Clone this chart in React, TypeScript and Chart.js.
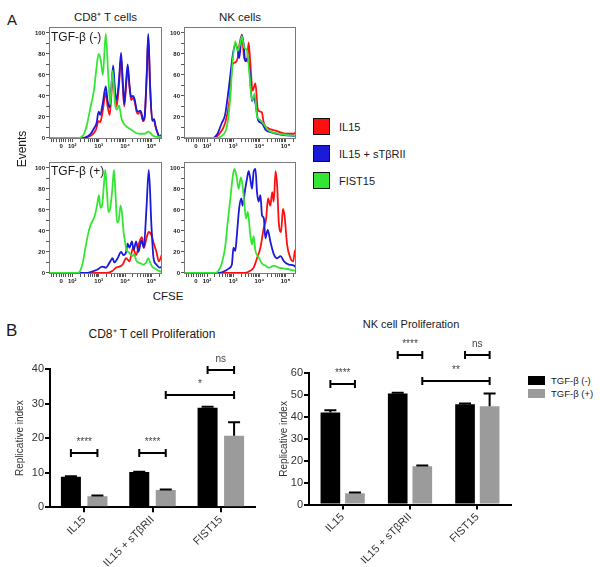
import React, { useEffect, useRef } from 'react';
import { Chart, registerables } from 'chart.js';

Chart.register(...registerables);

const FONT = "'Liberation Sans', Arial, Helvetica, sans-serif";
const RED = '#ff1010';
const BLUE = '#1a1ad8';
const GREEN = '#33e633';

// ---------- Panel A: CFSE histograms ----------
// x = CFSE display position in decades (10^n at n, "0" at 1.58); y = % of max events
const cfseMajorTicks = [1.58, 2, 3, 4, 5];
const cfseMajorLabels = ['0', '10²', '10³', '10⁴', '10⁵'];
const cfseLinearMinor = [1.2, 1.3, 1.4, 1.5, 1.67, 1.75, 1.84, 1.92];
const cfseDecades = [2, 3, 4];
const cfseMinorMultipliers = [2, 3, 4, 5, 6, 7, 8, 9];
const eventTicks = [0, 10, 20, 30, 40, 50, 60, 70, 80, 90, 100];
const flowSeriesNames = ['FIST15', 'IL15 + sTβRII', 'IL15'];

const cd8MinusGreen = [[1.12,0],[2.2,0],[2.35,1],[2.45,4],[2.56,13],[2.69,29],[2.82,45],[2.92,67],[3.0,80],[3.08,74],[3.16,60],[3.27,99],[3.36,62],[3.44,32],[3.53,64],[3.62,33],[3.69,27],[3.77,31],[3.87,18],[3.97,13],[4.1,10],[4.23,8],[4.4,5],[4.55,4],[4.74,4],[4.88,6],[4.95,5],[5.06,2],[5.2,1],[5.4,1]];
const cd8MinusBlue = [[1.12,0],[2.4,0],[2.55,1],[2.7,4],[2.82,9],[2.92,14],[3.0,25],[3.06,22],[3.15,32],[3.27,49],[3.34,35],[3.42,29],[3.55,69],[3.62,45],[3.68,36],[3.77,55],[3.85,81],[3.92,50],[3.97,32],[4.03,50],[4.1,70],[4.17,50],[4.23,39],[4.3,40],[4.36,37],[4.45,26],[4.5,25],[4.57,26],[4.62,24],[4.68,17],[4.74,20],[4.82,60],[4.88,99],[4.95,50],[5.03,17],[5.1,18],[5.15,12],[5.26,3],[5.32,1],[5.4,4]];
const cd8MinusRed = [[1.12,0],[2.45,0],[2.6,1],[2.75,3],[2.9,8],[3.0,16],[3.06,15],[3.15,25],[3.27,43],[3.34,30],[3.42,22],[3.55,62],[3.62,40],[3.68,30],[3.77,50],[3.85,76],[3.92,48],[3.97,30],[4.03,46],[4.1,66],[4.17,48],[4.23,36],[4.3,38],[4.36,35],[4.45,24],[4.5,23],[4.57,25],[4.62,22],[4.68,16],[4.74,19],[4.82,58],[4.88,97],[4.95,48],[5.03,16],[5.1,17],[5.15,11],[5.26,3],[5.32,1],[5.4,3]];

const nkMinusGreen = [[1.12,0],[2.4,0],[2.56,2],[2.76,11],[2.88,36],[2.97,70],[3.08,92],[3.17,83],[3.27,90],[3.33,97],[3.42,86],[3.53,83],[3.62,61],[3.72,36],[3.82,42],[3.91,21],[4.04,17],[4.14,14],[4.36,7],[4.74,4],[5.4,2]];
const nkMinusBlue = [[1.12,0],[2.2,0],[2.3,1],[2.4,4],[2.56,14],[2.69,22],[2.82,45],[2.91,64],[2.99,80],[3.08,89],[3.17,84],[3.23,76],[3.33,98],[3.4,89],[3.46,73],[3.55,76],[3.62,67],[3.72,35],[3.78,39],[3.85,33],[3.95,17],[4.1,14],[4.23,8],[4.49,5],[4.87,3],[5.4,2]];
const nkMinusRed = [[1.12,0],[2.3,0],[2.44,3],[2.69,14],[2.86,36],[2.97,70],[3.08,72],[3.17,76],[3.24,89],[3.33,98],[3.42,76],[3.53,73],[3.59,91],[3.65,73],[3.74,45],[3.85,52],[3.94,27],[4.04,25],[4.1,24],[4.17,14],[4.36,9],[4.62,7],[5.0,4],[5.32,4],[5.4,6]];

const cd8PlusGreen = [[1.12,0],[2.2,0],[2.3,2],[2.4,10],[2.5,24],[2.6,37],[2.7,46],[2.8,51],[2.88,57],[2.95,66],[3.01,74],[3.07,62],[3.13,64],[3.2,84],[3.25,98],[3.31,80],[3.37,58],[3.44,62],[3.52,80],[3.58,98],[3.64,75],[3.7,48],[3.76,50],[3.83,64],[3.88,58],[3.95,38],[4.0,30],[4.05,22],[4.12,20],[4.2,18],[4.28,16],[4.35,18],[4.42,12],[4.5,10],[4.6,9],[4.7,8],[4.8,10],[4.88,14],[4.95,10],[5.03,6],[5.15,4],[5.28,2],[5.4,1]];
const cd8PlusBlue = [[1.12,0],[2.5,0],[2.94,3],[3.14,6],[3.27,5],[3.44,11],[3.53,14],[3.59,10],[3.72,14],[3.85,20],[3.94,17],[4.04,20],[4.1,28],[4.17,24],[4.26,30],[4.33,22],[4.42,30],[4.51,20],[4.62,31],[4.71,24],[4.81,61],[4.9,98],[5.0,45],[5.08,14],[5.19,8],[5.32,5],[5.4,6]];
const cd8PlusRed = [[1.12,0],[3.3,0],[3.53,2],[3.65,5],[3.78,6],[3.91,8],[4.04,14],[4.17,11],[4.3,24],[4.42,17],[4.55,30],[4.64,34],[4.72,24],[4.81,33],[4.9,39],[5.0,36],[5.1,27],[5.19,20],[5.28,11],[5.4,18]];

const nkPlusGreen = [[1.12,0],[2.3,0],[2.44,2],[2.56,9],[2.69,24],[2.78,46],[2.88,68],[2.99,93],[3.05,99],[3.14,90],[3.21,80],[3.29,91],[3.36,83],[3.44,62],[3.49,52],[3.56,58],[3.65,37],[3.72,27],[3.78,35],[3.85,21],[3.97,15],[4.1,9],[4.23,7],[4.36,5],[4.55,7],[4.74,5],[5.0,4],[5.4,2]];
const nkPlusBlue = [[1.12,0],[2.44,0],[2.69,2],[2.82,4],[2.95,8],[3.01,24],[3.08,21],[3.14,36],[3.23,62],[3.31,71],[3.36,64],[3.46,80],[3.53,90],[3.59,97],[3.65,90],[3.72,80],[3.78,96],[3.85,99],[3.91,77],[3.97,68],[4.04,74],[4.1,55],[4.17,52],[4.23,33],[4.32,41],[4.42,30],[4.55,18],[4.68,14],[4.81,16],[4.94,11],[5.13,8],[5.32,7],[5.4,5]];
const nkPlusRed = [[1.12,0],[3.46,0],[3.65,2],[3.78,5],[3.91,14],[4.04,24],[4.17,43],[4.26,52],[4.33,71],[4.42,64],[4.49,77],[4.55,68],[4.62,97],[4.68,83],[4.74,49],[4.83,39],[4.9,61],[4.96,55],[5.06,27],[5.19,14],[5.29,11],[5.36,21],[5.4,22]];

// ---------- Panel B: replicative index ----------
const barCategories = ['IL15', 'IL15 + sTβRII', 'FIST15'];
const barSeries = ['TGF-β (-)', 'TGF-β (+)'];
const cd8Minus = [8.8, 10.2, 28.8];
const cd8Plus = [3.2, 5.0, 20.7];
const cd8MinusErr = [0.15, 0.1, 0.3];
const cd8PlusErr = [0.2, 0.15, 3.9];
const nkMinus = [42.1, 50.8, 45.8];
const nkPlus = [5.2, 17.5, 44.9];
const nkMinusErr = [1.0, 0.3, 0.4];
const nkPlusErr = [0.3, 0.3, 5.9];
// [fromSeries, fromCategory, toSeries, toCategory, level, label]
const cd8Sig = [[0,0,1,0,15.6,'****'],[0,1,1,1,15.7,'****'],[1,1,1,2,32.5,'*'],[0,2,1,2,39.6,'ns']];
const nkSig = [[0,0,1,0,55.3,'****'],[0,1,1,1,68.3,'****'],[1,1,1,2,56.4,'**'],[0,2,1,2,68.3,'ns']];

const cfseAllTicks = [
  ...cfseLinearMinor,
  ...cfseMajorTicks,
  ...cfseDecades.flatMap((d) => cfseMinorMultipliers.map((m) => d + Math.log10(m))),
  5 + Math.log10(2),
].sort((a, b) => a - b);

const framePlugin = {
  id: 'frame',
  afterDatasetsDraw(chart: any) {
    const { ctx, chartArea: a } = chart;
    ctx.save();
    ctx.strokeStyle = '#7a7a7a';
    ctx.lineWidth = 1;
    ctx.strokeRect(Math.round(a.left) + 0.5, Math.round(a.top) + 0.5, Math.round(a.right - a.left) - 1, Math.round(a.bottom - a.top) - 1);
    ctx.restore();
  },
};

function Histogram({ left, top, width, height, series }: any) {
  const ref = useRef<HTMLCanvasElement>(null);
  useEffect(() => {
    const colors = [GREEN, BLUE, RED];
    const tickFont = { family: FONT, size: 6, weight: 'bold' as const };
    const chart = new Chart(ref.current as HTMLCanvasElement, {
      type: 'line',
      data: {
        datasets: series.map((pts: number[][], i: number) => ({
          label: flowSeriesNames[i],
          data: pts.map(([x, y]) => ({ x, y })),
          borderColor: colors[i],
          borderWidth: 1.8,
          pointRadius: 0,
          fill: false,
          cubicInterpolationMode: 'monotone',
        })),
      },
      options: {
        animation: false,
        responsive: false,
        events: [],
        layout: { padding: { left: 0, right: 2, top: 4, bottom: 0 } },
        plugins: { legend: { display: false }, tooltip: { enabled: false } },
        scales: {
          x: {
            type: 'linear',
            min: 1.12,
            max: 5.4,
            afterFit: (s: any) => { s.height = 16; },
            afterBuildTicks: (ax: any) => { ax.ticks = cfseAllTicks.map((v) => ({ value: v })); },
            ticks: {
              autoSkip: false, maxRotation: 0, minRotation: 0, padding: 1, color: '#222', font: tickFont,
              callback: (v: any) => { const i = cfseMajorTicks.indexOf(v); return i >= 0 ? cfseMajorLabels[i] : ''; },
            },
            grid: { drawOnChartArea: false, tickLength: 3, color: '#555' },
            border: { display: false },
          },
          y: {
            min: -1,
            max: 106,
            afterFit: (s: any) => { s.width = 19; },
            afterBuildTicks: (ax: any) => { ax.ticks = eventTicks.map((v) => ({ value: v })); },
            ticks: {
              autoSkip: false, padding: 1, color: '#222', font: tickFont,
              callback: (v: any) => (v % 20 === 0 ? String(v) : ''),
            },
            grid: { drawOnChartArea: false, tickLength: 3, color: '#555' },
            border: { display: false },
          },
        },
      },
      plugins: [framePlugin],
    } as any);
    return () => chart.destroy();
  }, []);
  return <canvas ref={ref} width={width} height={height} style={{ position: 'absolute', left, top }} />;
}

const errorBarPlugin = {
  id: 'errorBars',
  afterDatasetsDraw(chart: any, _args: any, opts: any) {
    const { ctx } = chart;
    const ys = chart.scales.y;
    ctx.save();
    ctx.strokeStyle = '#000';
    ctx.lineWidth = 2;
    chart.data.datasets.forEach((ds: any, i: number) => {
      chart.getDatasetMeta(i).data.forEach((bar: any, j: number) => {
        const topY = ys.getPixelForValue(ds.data[j] + opts.errors[i][j]);
        ctx.beginPath();
        ctx.moveTo(bar.x, bar.y);
        ctx.lineTo(bar.x, topY);
        ctx.moveTo(bar.x - 6, topY);
        ctx.lineTo(bar.x + 6, topY);
        ctx.stroke();
      });
    });
    ctx.restore();
  },
};

const sigPlugin = {
  id: 'sig',
  afterDraw(chart: any, _args: any, opts: any) {
    const { ctx } = chart;
    const ys = chart.scales.y;
    ctx.save();
    opts.items.forEach(([fs, fc, ts, tc, level, label]: any) => {
      const x1 = chart.getDatasetMeta(fs).data[fc].x;
      const x2 = chart.getDatasetMeta(ts).data[tc].x;
      const y = Math.round(ys.getPixelForValue(level));
      ctx.strokeStyle = '#000';
      ctx.lineWidth = 2;
      ctx.beginPath();
      ctx.moveTo(x1, y); ctx.lineTo(x2, y);
      ctx.moveTo(x1, y - 4); ctx.lineTo(x1, y + 4);
      ctx.moveTo(x2, y - 4); ctx.lineTo(x2, y + 4);
      ctx.stroke();
      ctx.fillStyle = '#444';
      ctx.font = `10px ${FONT}`;
      ctx.textAlign = 'center';
      ctx.textBaseline = 'alphabetic';
      ctx.fillText(label, (x1 + x2) / 2, y - 8);
    });
    ctx.restore();
  },
};

function BarChart(p: any) {
  const ref = useRef<HTMLCanvasElement>(null);
  useEffect(() => {
    const chart = new Chart(ref.current as HTMLCanvasElement, {
      type: 'bar',
      data: {
        labels: barCategories,
        datasets: [
          { label: barSeries[0], data: p.minus, backgroundColor: '#000', borderWidth: 0 },
          { label: barSeries[1], data: p.plus, backgroundColor: '#9b9b9b', borderWidth: 0 },
        ],
      },
      options: {
        animation: false,
        responsive: false,
        events: [],
        layout: { padding: { left: 0, right: p.padRight, top: p.padTop, bottom: 0 } },
        datasets: { bar: { categoryPercentage: p.catPct, barPercentage: p.barPct } },
        plugins: {
          legend: { display: false },
          tooltip: { enabled: false },
          errorBars: { errors: [p.minusErr, p.plusErr] },
          sig: { items: p.sig },
        },
        scales: {
          x: {
            afterFit: (s: any) => { s.height = p.xAxisHeight; },
            grid: { offset: false, drawOnChartArea: false, tickLength: 5, lineWidth: 2, color: '#000' },
            border: { display: true, width: 2, color: '#000' },
            ticks: { minRotation: 45, maxRotation: 45, autoSkip: false, padding: 1, color: '#333', font: { family: FONT, size: 11 } },
          },
          y: {
            min: 0,
            max: p.yMax,
            afterFit: (s: any) => { s.width = p.axisWidth; },
            ticks: { stepSize: 10, padding: 1, color: '#333', font: { family: FONT, size: 11 } },
            grid: { drawOnChartArea: false, tickLength: 5, lineWidth: 2, color: '#000' },
            border: { display: true, width: 2, color: '#000' },
            title: { display: true, text: 'Replicative index', color: '#333', font: { family: FONT, size: 10 }, padding: { top: p.titlePad, bottom: 0 } },
          },
        },
      },
      plugins: [errorBarPlugin, sigPlugin],
    } as any);
    return () => chart.destroy();
  }, []);
  return <canvas ref={ref} width={p.width} height={p.height} style={{ position: 'absolute', left: p.left, top: p.top }} />;
}

function Txt({ x, y, size, children, center = true, rotate = 0 }: any) {
  return (
    <div
      style={{
        position: 'absolute', left: x, top: y, fontSize: size, lineHeight: 1, whiteSpace: 'nowrap',
        transform: `translate(${center ? '-50%' : '0'}, -50%) rotate(${rotate}deg)`,
      }}
    >
      {children}
    </div>
  );
}

function Swatch({ x, y, w, h, color, border }: any) {
  return (
    <div style={{ position: 'absolute', left: x, top: y, width: w, height: h, background: color, boxSizing: 'border-box', border: border ? '1px solid #111' : 'none' }} />
  );
}

export default function App() {
  return (
    <div style={{ position: 'absolute', left: 0, top: 0, width: 600, height: 567, background: '#fff', overflow: 'hidden', fontFamily: FONT, color: '#1a1a1a' }}>
      <Txt x={7} y={19} size={15} center={false}>A</Txt>
      <Txt x={105.5} y={18} size={11.5}>CD8⁺ T cells</Txt>
      <Txt x={240} y={18} size={11.5}>NK cells</Txt>

      <Histogram left={30} top={22} width={134} height={133} series={[cd8MinusGreen, cd8MinusBlue, cd8MinusRed]} />
      <Histogram left={165} top={22} width={133} height={133} series={[nkMinusGreen, nkMinusBlue, nkMinusRed]} />
      <Histogram left={30} top={157} width={134} height={133} series={[cd8PlusGreen, cd8PlusBlue, cd8PlusRed]} />
      <Histogram left={165} top={157} width={133} height={133} series={[nkPlusGreen, nkPlusBlue, nkPlusRed]} />

      <Txt x={51} y={37} size={12} center={false}>TGF-β (-)</Txt>
      <Txt x={51} y={171} size={12} center={false}>TGF-β (+)</Txt>
      <Txt x={22} y={149} size={12} rotate={-90}>Events</Txt>
      <Txt x={168} y={297} size={11.5}>CFSE</Txt>

      <Swatch x={313} y={118} w={17} h={17} color={RED} border />
      <Txt x={339} y={127} size={11} center={false}>{flowSeriesNames[2]}</Txt>
      <Swatch x={313} y={145} w={17} h={17} color={BLUE} border />
      <Txt x={339} y={154} size={11} center={false}>{flowSeriesNames[1]}</Txt>
      <Swatch x={313} y={172} w={17} h={17} color={GREEN} border />
      <Txt x={339} y={181} size={11} center={false}>{flowSeriesNames[0]}</Txt>

      <Txt x={6} y={330} size={17} center={false}>B</Txt>
      <Txt x={152} y={334} size={12}>CD8⁺ T cell Proliferation</Txt>
      <Txt x={411} y={324} size={11}>NK cell Proliferation</Txt>

      <BarChart
        left={0} top={300} width={261} height={267}
        minus={cd8Minus} plus={cd8Plus} minusErr={cd8MinusErr} plusErr={cd8PlusErr} sig={cd8Sig}
        yMax={40} axisWidth={50} xAxisHeight={59.7} padTop={69} padRight={6} titlePad={14}
        catPct={0.776} barPct={0.755}
      />
      <BarChart
        left={262} top={300} width={255} height={267}
        minus={nkMinus} plus={nkPlus} minusErr={nkMinusErr} plusErr={nkPlusErr} sig={nkSig}
        yMax={60} axisWidth={47} xAxisHeight={62.5} padTop={73.3} padRight={6} titlePad={16}
        catPct={0.73} barPct={0.8}
      />

      <Swatch x={528} y={376} w={17} h={9} color="#000" />
      <Txt x={551} y={380.5} size={9.5} center={false}>{barSeries[0]}</Txt>
      <Swatch x={528} y={389} w={17} h={9} color="#9b9b9b" />
      <Txt x={551} y={393.5} size={9.5} center={false}>{barSeries[1]}</Txt>
    </div>
  );
}
